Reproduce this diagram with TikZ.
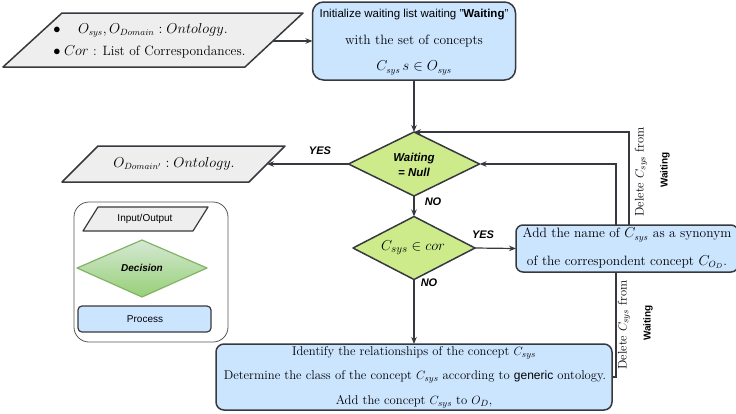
\documentclass[tikz,border=0pt]{standalone}
\usepackage{fontspec}
\setsansfont{Liberation Sans}
\usetikzlibrary{arrows.meta,shapes.geometric,calc}
\definecolor{edge}{HTML}{36393D}
\definecolor{procfill}{HTML}{CCE5FF}
\definecolor{decfill}{HTML}{CDEB8B}
\definecolor{iofill}{HTML}{EEEEEE}
\definecolor{legtop}{HTML}{D5E8D4}
\definecolor{legbottom}{HTML}{97D077}
\definecolor{legedge}{HTML}{82B366}
\definecolor{frame}{HTML}{555555}
\pgfdeclarelayer{behind}
\pgfsetlayers{behind,main}
\begin{document}
\begin{tikzpicture}[x=1pt,y=-1pt,
  every node/.style={inner sep=0pt, outer sep=0pt},
  shapeline/.style={draw=edge, line width=1.5pt, line join=round},
  iobox/.style={shapeline, fill=iofill},
  procbox/.style={shapeline, fill=procfill, rectangle},
  decbox/.style={shapeline, fill=decfill, diamond},
  flow/.style={draw=edge, line width=1.2pt, -{Stealth[length=7pt,width=5.5pt]}},
  body/.style={font=\fontsize{13.5}{16}\selectfont},
  smallbody/.style={font=\fontsize{12.7}{15}\selectfont},
  tag/.style={font=\sffamily\bfseries\itshape\fontsize{11}{13}\selectfont},
  side/.style={font=\fontsize{12.5}{15}\selectfont, rotate=90},
  sidebold/.style={font=\sffamily\bfseries\fontsize{10}{12}\selectfont, rotate=90},
  legtext/.style={font=\sffamily\fontsize{10}{12}\selectfont}]
\useasboundingbox (0,0) rectangle (736,413);

% ---- input data
\draw[iobox] (62,13) -- (303,13) -- (245,67) -- (3,67) -- cycle;
\coordinate (inR) at (273,41);
\node[body] (b1) at (57,30) {$\bullet$};
\node[body, anchor=west] (in1) at (78,30) {$O_{sys}, O_{Domain} : Ontology.$};
\node[body] (b2) at (57,52) {$\bullet$};
\node[body, anchor=west] (in2) at (64,52) {$Cor$ : List of Correspondances.};

% ---- initialisation
\node[procbox, minimum width=203pt, minimum height=78pt, rounded corners=11pt] (init) at (414,41) {};
\node[font=\sffamily\fontsize{11.5}{14}\selectfont] (init1) at (414,15) {Initialize waiting list waiting "\textbf{Waiting}"};
\node[body] (init2) at (414,41) {with the set of concepts};
\node[body] (init3) at (414,68) {$C_{sys}\,s \in O_{sys}$};

% ---- first test
\node[decbox, minimum width=131pt, minimum height=64pt] (d1) at (414,164) {};
\node[align=center, font=\sffamily\bfseries\itshape\fontsize{11.5}{15}\selectfont] (d1t) at (414,165) {Waiting\\= Null};

% ---- output
\draw[iobox] (98,146) -- (285,146) -- (249,182) -- (62,182) -- cycle;
\coordinate (outR) at (267,164);
\node[body] (out1) at (174,164) {$O_{Domain'} : Ontology.$};

% ---- second test
\node[decbox, minimum width=122pt, minimum height=63pt] (d2) at (414,248) {};
\node[font=\fontsize{15}{18}\selectfont] (d2t) at (413,248) {$C_{sys} \in cor$};

% ---- synonym box
\node[procbox, minimum width=222pt, minimum height=47pt, rounded corners=7pt] (add) at (627,248.5) {};
\node[body] (add1) at (627,235) {Add the name of $C_{sys}$ as a synonym};
\node[body] (add2) at (627,262) {of the correspondent concept $C_{O_D}$.};

% ---- new concept box
\node[procbox, minimum width=396pt, minimum height=66pt, rounded corners=8pt] (proc) at (414,377) {};
\node[smallbody] (p1) at (414,353) {Identify the relationships of the concept $C_{sys}$};
\node[smallbody] (p2) at (415,377) {Determine the class of the concept $C_{sys}$ according to {\sffamily\fontsize{12}{15}\selectfont generic} ontology.};
\node[smallbody] (p3) at (414,402) {Add the concept $C_{sys}$ to $O_D$,};

% ---- connectors
\draw[flow] (inR) -- (init.west);
\draw[flow] (init.south) -- (d1.north);
\draw[flow] (d1.west) -- (outR);
\draw[flow] (d1.south) -- (d2.north);
\draw[flow] (d2.east) -- (add.west);
\draw[flow] (d2.south) -- (proc.north);
\draw[flow] ([xshift=2pt]add.north) |- (d1.north);
% the return line from the last box passes behind the synonym box
\begin{pgfonlayer}{behind}
\draw[flow] (proc.east) -- ++(4,0) |- (d1.east);
\end{pgfonlayer}

% ---- connector labels
\node[tag] (yes1) at (320,151) {YES};
\node[tag] (no1) at (433,202) {NO};
\node[tag] (yes2) at (483,235) {YES};
\node[tag] (no2) at (429,283) {NO};
\node[side] (del1) at (641,172) {Delete $C_{sys}$ from};
\node[sidebold] (wait1) at (665,170) {Waiting};
\node[side] (del2) at (624,325) {Delete $C_{sys}$ from};
\node[sidebold] (wait2) at (648,323) {Waiting};

% ---- legend
\draw[frame, line width=0.8pt, rounded corners=15pt] (74,202) rectangle (228,342);
\draw[iobox, line width=1.2pt] (98,207) -- (208,207) -- (193,231) -- (83,231) -- cycle;
\node[legtext] (lio) at (145,219) {Input/Output};
\path[top color=legtop, bottom color=legbottom, draw=legedge, line width=1.2pt, line join=round]
  (142,240) -- (207,268) -- (142,297) -- (77,268) -- cycle;
\node[font=\sffamily\bfseries\itshape\fontsize{10}{12}\selectfont] (ldec) at (142,268) {Decision};
\draw[procbox, line width=1.2pt, rounded corners=4pt] (78,306) rectangle (211,332);
\node[legtext] (lproc) at (145,319) {Process};
\end{tikzpicture}
\end{document}
